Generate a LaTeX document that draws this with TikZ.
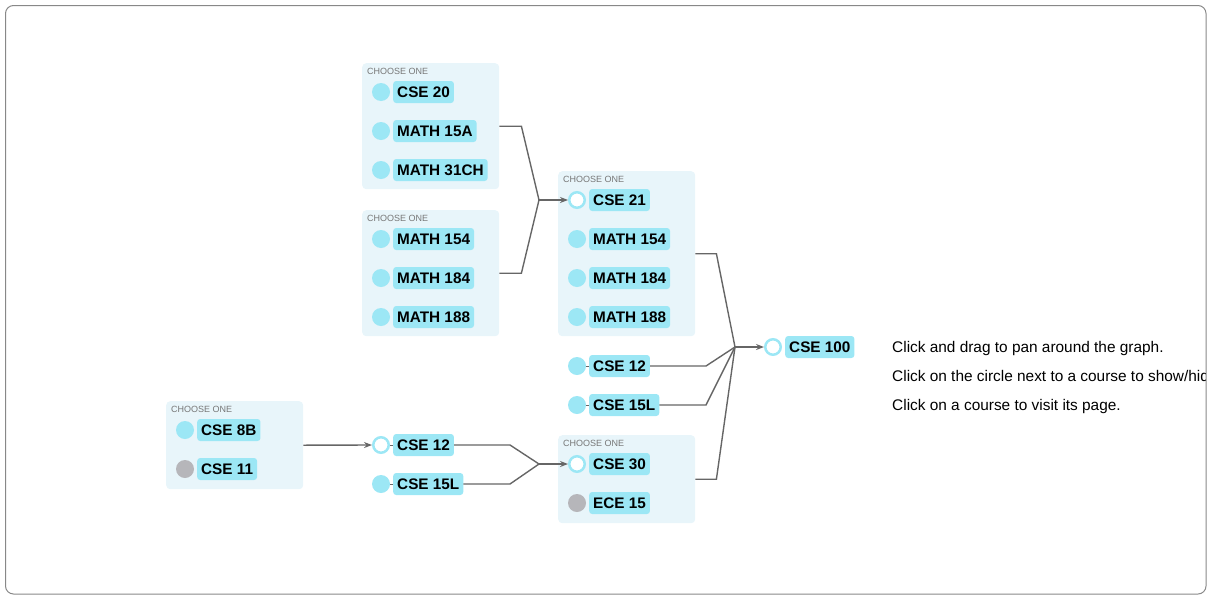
\documentclass[tikz,border=0pt]{standalone}
\usepackage{fontspec}
\setmainfont{Liberation Sans}
\usetikzlibrary{arrows.meta}
\definecolor{grpbg}{HTML}{E8F5FA}
\definecolor{cyanc}{HTML}{9CE7F5}
\definecolor{grayc}{HTML}{B6B6BA}
\definecolor{connc}{HTML}{666666}
\definecolor{capc}{HTML}{777777}
\definecolor{framec}{HTML}{888888}
\tikzset{
  grp/.style={fill=grpbg, rounded corners=4pt, inner sep=0pt, anchor=north west},
  grpcap/.style={anchor=west, inner sep=0pt, text=capc, font=\fontsize{9}{10}\selectfont},
  lbl/.style={anchor=west, fill=cyanc, rounded corners=3pt, inner xsep=4pt, minimum height=22pt, inner ysep=0pt, font=\bfseries\fontsize{15.3}{17}\selectfont},
  dotc/.style={circle, fill=cyanc, minimum size=18pt, inner sep=0pt},
  dotg/.style={circle, fill=grayc, minimum size=18pt, inner sep=0pt},
  doth/.style={circle, fill=white, draw=cyanc, line width=2.5pt, minimum size=15.5pt, inner sep=0pt},
  conn/.style={draw=connc, line width=1.4pt},
  arr/.style={conn, -{Stealth[length=8pt,width=6pt]}},
  tickln/.style={draw=connc, line width=1pt},
  info/.style={anchor=west, inner sep=0pt, font=\fontsize{15.4}{17}\selectfont}
}
\newcommand\crs[5]{%
  \node[#4] (#1c) at (#2,#3) {};
  \node[lbl] (#1) at (#2+12,#3) {#5};
}
\begin{document}
\begin{tikzpicture}[x=1pt,y=-1pt]
\useasboundingbox (0,0) rectangle (1212,600);
\draw[framec, line width=1pt, rounded corners=8pt] (5.5,5.5) rectangle (1206,594);

% groups
\node[grp, minimum width=137pt, minimum height=126pt] (boxA) at (362,63) {};
\node[grpcap] (capA) at (367,71) {CHOOSE ONE};
\crs{cse20}{381}{92}{dotc}{CSE 20}
\crs{m15a}{381}{131}{dotc}{MATH 15A}
\crs{m31ch}{381}{170}{dotc}{MATH 31CH}

\node[grp, minimum width=137pt, minimum height=126pt] (boxB) at (362,210) {};
\node[grpcap] (capB) at (367,218) {CHOOSE ONE};
\crs{m154a}{381}{239}{dotc}{MATH 154}
\crs{m184a}{381}{278}{dotc}{MATH 184}
\crs{m188a}{381}{317}{dotc}{MATH 188}

\node[grp, minimum width=137pt, minimum height=165pt] (boxC) at (558,171) {};
\node[grpcap] (capC) at (563,179) {CHOOSE ONE};
\crs{cse21}{577}{200}{doth}{CSE 21}
\crs{m154b}{577}{239}{dotc}{MATH 154}
\crs{m184b}{577}{278}{dotc}{MATH 184}
\crs{m188b}{577}{317}{dotc}{MATH 188}

\crs{cse12a}{577}{366}{dotc}{CSE 12}
\crs{cse15la}{577}{405}{dotc}{CSE 15L}
\crs{cse100}{773}{347}{doth}{CSE 100}

\node[grp, minimum width=137pt, minimum height=88pt] (boxD) at (166,401) {};
\node[grpcap] (capD) at (171,409) {CHOOSE ONE};
\crs{cse8b}{185}{430}{dotc}{CSE 8B}
\crs{cse11}{185}{469}{dotg}{CSE 11}

\crs{cse12b}{381}{445}{doth}{CSE 12}
\crs{cse15lb}{381}{484}{dotc}{CSE 15L}

\node[grp, minimum width=137pt, minimum height=88pt] (boxE) at (558,435) {};
\node[grpcap] (capE) at (563,443) {CHOOSE ONE};
\crs{cse30}{577}{464}{doth}{CSE 30}
\crs{ece15}{577}{503}{dotg}{ECE 15}

% small ticks
\draw[tickln] (cse12ac.east) -- (cse12a.west);
\draw[tickln] (cse15lac.east) -- (cse15la.west);
\draw[tickln] (cse12bc.east) -- (cse12b.west);
\draw[tickln] (cse15lbc.east) -- (cse15lb.west);

% junctions
\coordinate (j1) at (539,200);
\coordinate (j2) at (735,347);
\coordinate (j3) at (539,464);

\draw[conn] (boxA.east) -- ++(22,0) -- (j1);
\draw[conn] (boxB.east) -- ++(22,0) -- (j1);
\draw[arr] (j1) -- (cse21c.west);

\draw[conn] (boxC.east) -- ++(21,0) -- (j2);
\draw[conn] (cse12a.east) -- (706,366) -- (j2);
\draw[conn] (cse15la.east) -- (706,405) -- (j2);
\draw[conn] (boxE.east) -- ++(21,0) -- (j2);
\draw[arr] (j2) -- (cse100c.west);

\draw[arr] (boxD.east) -- (cse12bc.west);
\draw[conn] (cse12b.east) -- (510,445) -- (j3);
\draw[conn] (cse15lb.east) -- (510,484) -- (j3);
\draw[arr] (j3) -- (cse30c.west);

% instructions (clipped at the frame, as in the reference)
\begin{scope}
\clip (5,5) rectangle (1205.5,594);
\node[info] (i1) at (892,348.5) {Click and drag to pan around the graph.};
\node[info] (i2) at (892,377.5) {Click on the circle next to a course to show/hide its prerequisites.};
\node[info] (i3) at (892,406.5) {Click on a course to visit its page.};
\end{scope}
\end{tikzpicture}
\end{document}
